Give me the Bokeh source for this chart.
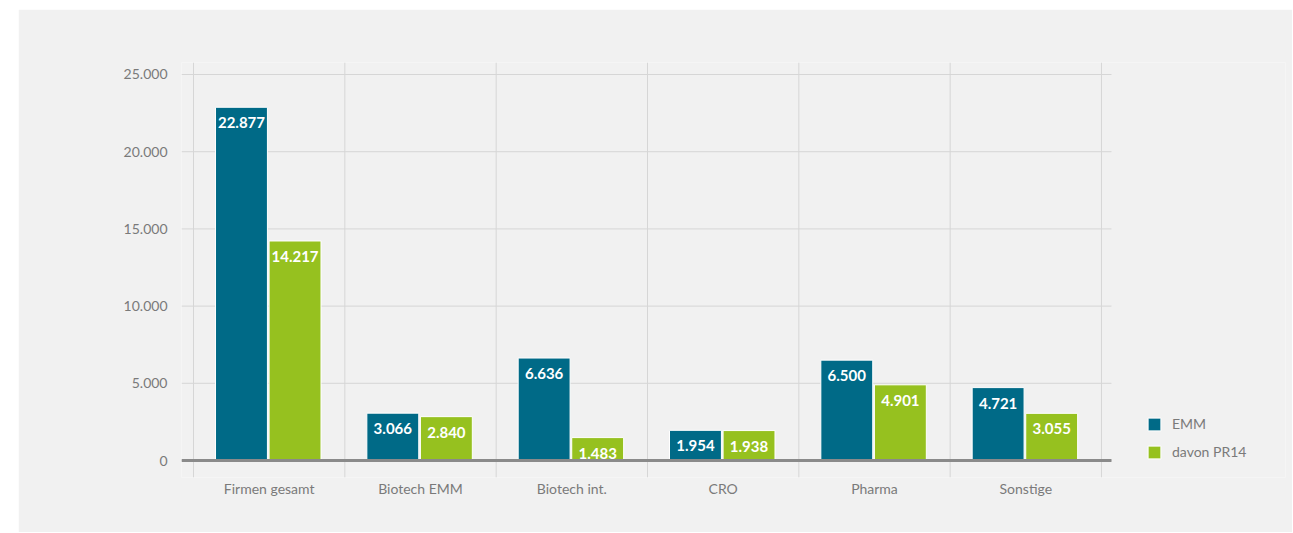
from bokeh.plotting import figure
from bokeh.models import Range1d, FixedTicker, Legend, LegendItem, ColumnDataSource, Spacer
from bokeh.layouts import row, column
from bokeh.embed import file_html
from bokeh.resources import INLINE
from bokeh.core.properties import value

categories = ["Firmen gesamt", "Biotech EMM", "Biotech int.", "CRO", "Pharma", "Sonstige"]
emm = [22877, 3066, 6636, 1954, 6500, 4721]
pr14 = [14217, 2840, 1483, 1938, 4901, 3055]
y_ticks = [0, 5000, 10000, 15000, 20000, 25000]
series_names = ["EMM", "davon PR14"]


def de(v):
    return f"{v:,}".replace(",", ".")


BLUE = "#006a87"
GREEN = "#96c11f"
BG = "#f1f1f1"
GRID = "#d6d6d6"
TXT = "#7a7a7a"
FONT = "Lato"
PX = 151.33  # pixels per category
n = len(categories)

x_start = -12 / PX
x_plot_end = n + 10 / PX          # end of the plotting area (grid / baseline)
x_end = (1285 - 193) / PX         # frame extends to hold the legend
y_start, y_end = -1101, 25777

p = figure(width=1274, height=523, output_backend="svg", toolbar_location=None,
           x_range=Range1d(x_start, x_end), y_range=Range1d(y_start, y_end),
           min_border_left=163, min_border_right=7, min_border_top=53, min_border_bottom=55,
           background_fill_color=BG, border_fill_color=BG, outline_line_color=None)
p.xgrid.visible = False
p.ygrid.visible = False

# grid lines limited to the plotting area
p.segment(x0=[x_start] * len(y_ticks), x1=[x_plot_end] * len(y_ticks), y0=y_ticks, y1=y_ticks,
          line_color=GRID, line_width=1)
p.segment(x0=list(range(n + 1)), x1=list(range(n + 1)), y0=[y_start] * (n + 1), y1=[y_end] * (n + 1),
          line_color=GRID, line_width=1)

src_a = ColumnDataSource(dict(x=[i + 0.317 for i in range(n)], top=emm, lab=[de(v) for v in emm]))
src_b = ColumnDataSource(dict(x=[i + 0.671 for i in range(n)], top=pr14, lab=[de(v) for v in pr14]))

r1 = p.vbar(x="x", top="top", width=0.343, source=src_a, fill_color=BLUE, line_color="white", line_width=1)
r2 = p.vbar(x="x", top="top", width=0.343, source=src_b, fill_color=GREEN, line_color="white", line_width=1)

for src in (src_a, src_b):
    p.text(x="x", y="top", text="lab", source=src, text_align="center", text_baseline="top",
           y_offset=10, text_color="white", text_font=value(FONT), text_font_size="15px",
           text_font_style="bold")

# baseline
p.segment(x0=[x_start], x1=[x_plot_end], y0=[0], y1=[0], line_color="#8a8a8a", line_width=3)

xa = p.xaxis[0]
xa.ticker = FixedTicker(ticks=[i + 0.5 for i in range(n)])
xa.major_label_overrides = {i + 0.5: c for i, c in enumerate(categories)}
xa.axis_line_color = None
xa.major_tick_line_color = None
xa.minor_tick_line_color = None
xa.major_label_standoff = -4
xa.major_label_text_font = FONT
xa.major_label_text_font_size = "14px"
xa.major_label_text_color = TXT

ya = p.yaxis[0]
ya.ticker = FixedTicker(ticks=y_ticks)
ya.major_label_overrides = {t: de(t) for t in y_ticks}
ya.axis_line_color = None
ya.major_tick_line_color = None
ya.minor_tick_line_color = None
ya.major_label_standoff = 8
ya.major_label_text_font = FONT
ya.major_label_text_font_size = "14px"
ya.major_label_text_color = TXT

legend = Legend(items=[LegendItem(label=series_names[0], renderers=[r1]),
                       LegendItem(label=series_names[1], renderers=[r2])],
                location=(965, 17), padding=0, margin=0, spacing=11,
                glyph_width=16, glyph_height=16, label_height=16, label_standoff=10,
                border_line_color=None, background_fill_alpha=0,
                label_text_font=FONT, label_text_font_size="14px", label_text_color=TXT)
p.add_layout(legend)

layout = column(Spacer(height=9), row(Spacer(width=18), p))
open("out.html", "w").write(file_html(layout, INLINE))
